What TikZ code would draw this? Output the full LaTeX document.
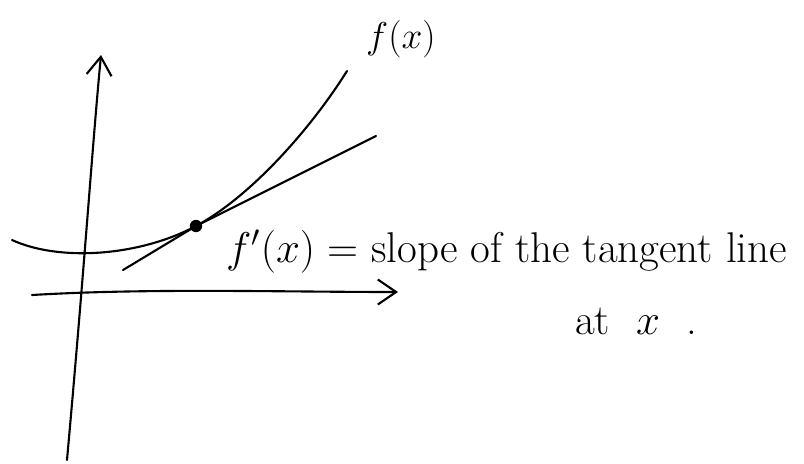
\documentclass[tikz,border=0pt]{standalone}
\usepackage{tikz}
\usetikzlibrary{arrows.meta}
\newcommand{\handtext}[2][1.77]{\scalebox{#1}{#2}}

\begin{document}
\begin{tikzpicture}[
    x=0.03cm, y=-0.03cm,
    stroke/.style={line width=1.8pt, line cap=round},
    axis/.style={stroke, -{Straight Barb[length=0.55cm, width=0.75cm, line width=1.8pt]}},
    label/.style={font=\fontsize{20.74}{25}\selectfont, inner sep=0pt}
  ]
    \useasboundingbox (0,0) rectangle (804,463);
    % axes
    \coordinate (ybot) at (67,460);
    \coordinate (ytop) at (101,55);
    \coordinate (xleft) at (32,295);
    \coordinate (xright) at (398,292);
    \draw[axis] (ybot) .. controls (85,260) and (92,150) .. (ytop);
    \draw[axis] (xleft) .. controls (150,288) and (280,292) .. (xright);
    % curve, tangent and point
    \coordinate (cstart) at (12,240);
    \coordinate (cend) at (347,71);
    \coordinate (tstart) at (123,270);
    \coordinate (tend) at (376,136);
    \node[circle, fill, inner sep=0pt, minimum size=0.37cm] (pt) at (196,226) {};
    \draw[stroke] (cstart) .. controls (60,262) and (140,256) .. (pt.center)
                  .. controls (250,197) and (310,130) .. (cend);
    \draw[stroke] (tstart) -- (pt.center) -- (tend);
    % labels
    \node[label, anchor=base west] (fx) at (366,48) {\handtext[1.54]{$f(x)$}};
    \node[label, anchor=base west] (slope) at (226,262) {\handtext{$f'(x) =$ slope of the tangent line}};
    \node[label, anchor=base west] (atx) at (575,334) {\handtext{at~~$x$~~.}};
\end{tikzpicture}
\end{document}
